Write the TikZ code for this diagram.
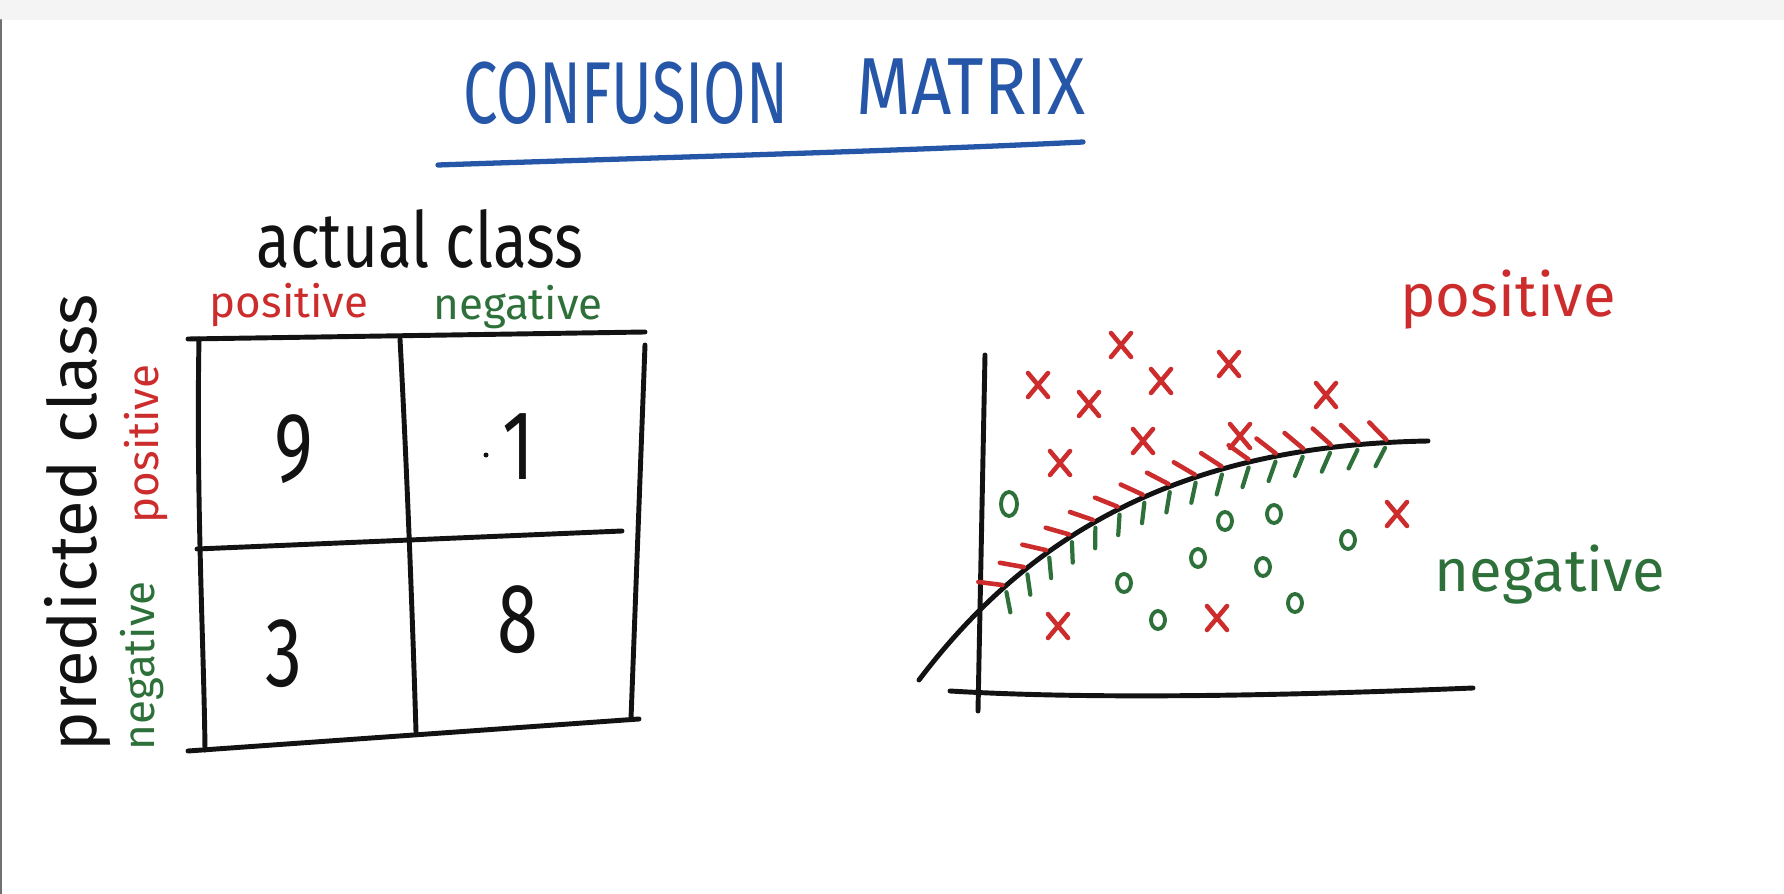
\documentclass[tikz,border=0pt]{standalone}
\usepackage{fontspec}
\setmainfont{Fira Sans}
\usepackage{tikz}
\usetikzlibrary{decorations.markings}
\definecolor{penblue}{RGB}{38,86,168}
\definecolor{penred}{RGB}{204,44,44}
\definecolor{pengreen}{RGB}{46,112,58}
\definecolor{ink}{RGB}{18,18,18}
\definecolor{bar}{RGB}{244,244,244}

\begin{document}
\begin{tikzpicture}[x=0.01cm,y=-0.01cm,line cap=round,line join=round,
  g/.style={draw=ink,line width=1.4pt},
  n/.style={font=\fontsize{28}{30}\selectfont,text=ink,xscale=0.75},
  lr/.style={text=penred,font=\fontsize{12.5}{14}\selectfont},
  lg/.style={text=pengreen,font=\fontsize{12.5}{14}\selectfont},
  xm/.style={draw=penred,line width=1.3pt},
  om/.style={draw=pengreen,line width=1.1pt}]
  \useasboundingbox (0,0) rectangle (1784,894);
  \fill[bar] (0,0) rectangle (1784,20);
  \draw[ink!60,line width=0.6pt] (1,20) -- (1,894);
  \node[text=penblue,font=\fontsize{25}{28}\selectfont,xscale=0.7] (t1) at (626,93) {CONFUSION};
  \node[text=penblue,font=\fontsize{23}{26}\selectfont,xscale=0.87] (t2) at (971,87) {MATRIX};
  \draw[penblue,line width=1.5pt] (438,165) .. controls (640,158) and (880,152) .. (1083,142);
  \node[font=\fontsize{22}{24}\selectfont,text=ink,xscale=0.8] (act) at (420,239) {actual class};
  \node[lr] (apos) at (289,305) {positive};
  \node[lg] (aneg) at (518,307) {negative};
  \node[rotate=90,font=\fontsize{19}{21}\selectfont,text=ink] (pred) at (78,523) {predicted class};
  \node[lr,rotate=90] (ppos) at (146,444) {positive};
  \node[lg,rotate=90] (pneg) at (142,666) {negative};
  \draw[g] (188,339) -- (645,332);
  \draw[g] (199,339) .. controls (196,500) and (204,650) .. (205,750);
  \draw[g] (188,751) -- (639,719);
  \draw[g] (645,345) -- (631,719);
  \draw[g] (400,339) .. controls (406,450) and (412,600) .. (416,732);
  \draw[g] (197,549) -- (622,531);
  \node[n] (c11) at (294,449) {9};
  \node[n] (c12) at (518,447) {1};
  \node[n] (c21) at (284,654) {3};
  \node[n] (c22) at (518,620) {8};
  \fill[ink] (486,455) circle[radius=2.5];
  \draw[g] (985,355) -- (978,711);
  \draw[g] (950,691) .. controls (1100,700) and (1300,695) .. (1473,688);
  \draw[g,postaction={decorate},decoration={markings,
    mark=between positions 0.21 and 0.97 step 0.0475 with {
      \draw[penred,line width=1.3pt] (-3.5pt,6pt) -- (1pt,0.8pt);
      \draw[pengreen,line width=1.2pt] (-2.5pt,-6.5pt) -- (0.5pt,-1.5pt);}}]
    (919,680) .. controls (1040,520) and (1200,445) .. (1428,441);
  \foreach \px/\py in {1038/385,1089/404,1121/345,1161/381,1229/364,1326/395,1060/463,1143/441,1240/436,1397/514,1058/626,1217/618}
    \draw[xm] (\px-10,\py-12) -- (\px+10,\py+12) (\px+10,\py-12) -- (\px-10,\py+12);
  \draw[om] (1009,504) ellipse[x radius=8,y radius=12];
  \foreach \px/\py in {1225/521,1274/514,1348/540,1198/558,1263/567,1124/583,1158/620,1295/603}
    \draw[om] (\px,\py) ellipse[x radius=7,y radius=9];
  \node[text=penred,font=\fontsize{17}{19}\selectfont] (rpos) at (1508,300) {positive};
  \node[text=pengreen,font=\fontsize{17}{19}\selectfont] (rneg) at (1550,575) {negative};
\end{tikzpicture}
\end{document}
